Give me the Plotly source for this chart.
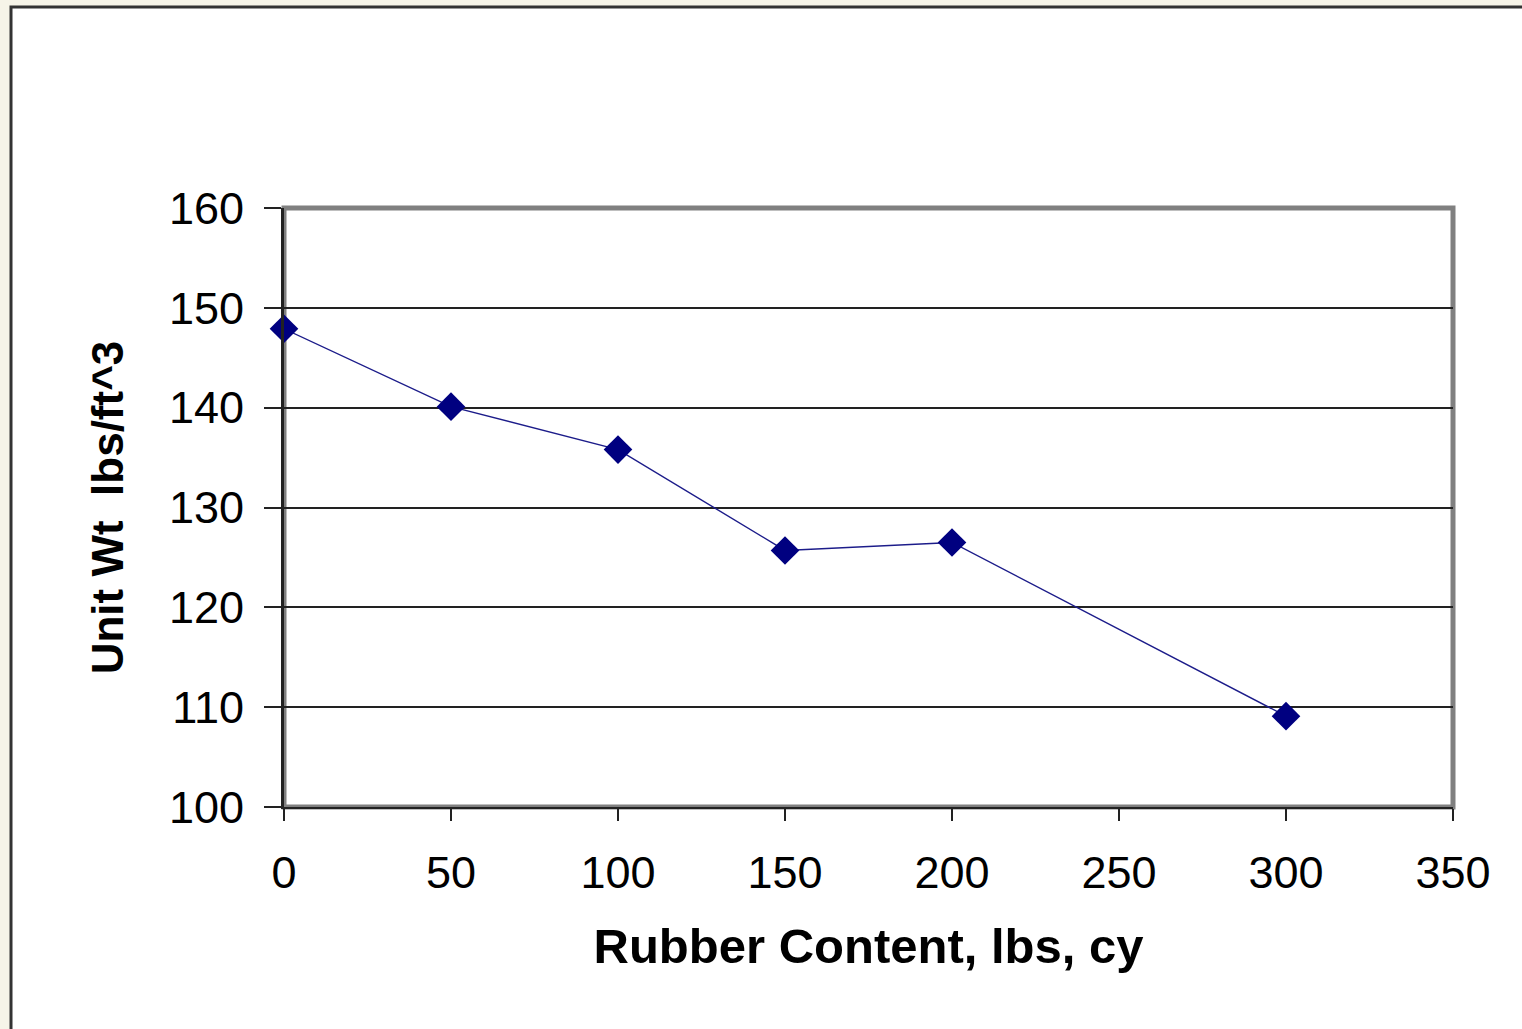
import plotly.graph_objects as go

rubber_content = [0, 50, 100, 150, 200, 300]
unit_weight = [147.9, 140.1, 135.8, 125.7, 126.5, 109.1]
x_ticks = [0, 50, 100, 150, 200, 250, 300, 350]
y_ticks = [100, 110, 120, 130, 140, 150, 160]

W, H = 1522, 1029
L, R, T, B = 284, 69, 208, 222
pw, ph = W - L - R, H - T - B

fig = go.Figure()
fig.add_trace(go.Scatter(
    x=rubber_content, y=unit_weight, mode="lines+markers",
    line=dict(color="#1c1c8a", width=1.4),
    marker=dict(symbol="diamond", size=22, color="#000080", line=dict(width=0)),
    showlegend=False, cliponaxis=False,
))

# outer page frame
fig.add_shape(type="rect", xref="paper", yref="paper",
              x0=(11 - L) / pw, x1=(W + 20 - L) / pw,
              y0=-(H + 20 - (T + ph)) / ph, y1=1 + (T - 7) / ph,
              line=dict(color="#333333", width=3), fillcolor="white", layer="below")
# gray plot border
fig.add_shape(type="rect", xref="x domain", yref="y domain", x0=0, x1=1, y0=0, y1=1,
              line=dict(color="#808080", width=5), layer="below")

font_fam = "Liberation Sans, Arial, sans-serif"
fig.update_layout(
    width=W, height=H,
    margin=dict(l=L, r=R, t=T, b=B, autoexpand=False),
    paper_bgcolor="#f6f4e8", plot_bgcolor="white",
    font=dict(family=font_fam, color="black"),
    xaxis=dict(range=[0, 350], tickvals=x_ticks, ticks="outside", ticklen=12, tickwidth=2,
               tickcolor="#222", showline=True, linecolor="#222", linewidth=2, showgrid=False,
               zeroline=False, tickfont=dict(size=45), ticklabelstandoff=13,
               title=dict(text="<b>Rubber Content, lbs, cy</b>", font=dict(size=49), standoff=32)),
    yaxis=dict(range=[100, 160], tickvals=y_ticks, ticks="outside", ticklen=17, tickwidth=2,
               tickcolor="#222", showline=True, linecolor="#222", linewidth=3, showgrid=True,
               gridcolor="#222", gridwidth=1.5, zeroline=False, tickfont=dict(size=45),
               ticklabelstandoff=11,
               title=dict(text="<b>Unit Wt  lbs/ft^3</b>", font=dict(size=44), standoff=32)),
)

fig.write_html("out.html")
